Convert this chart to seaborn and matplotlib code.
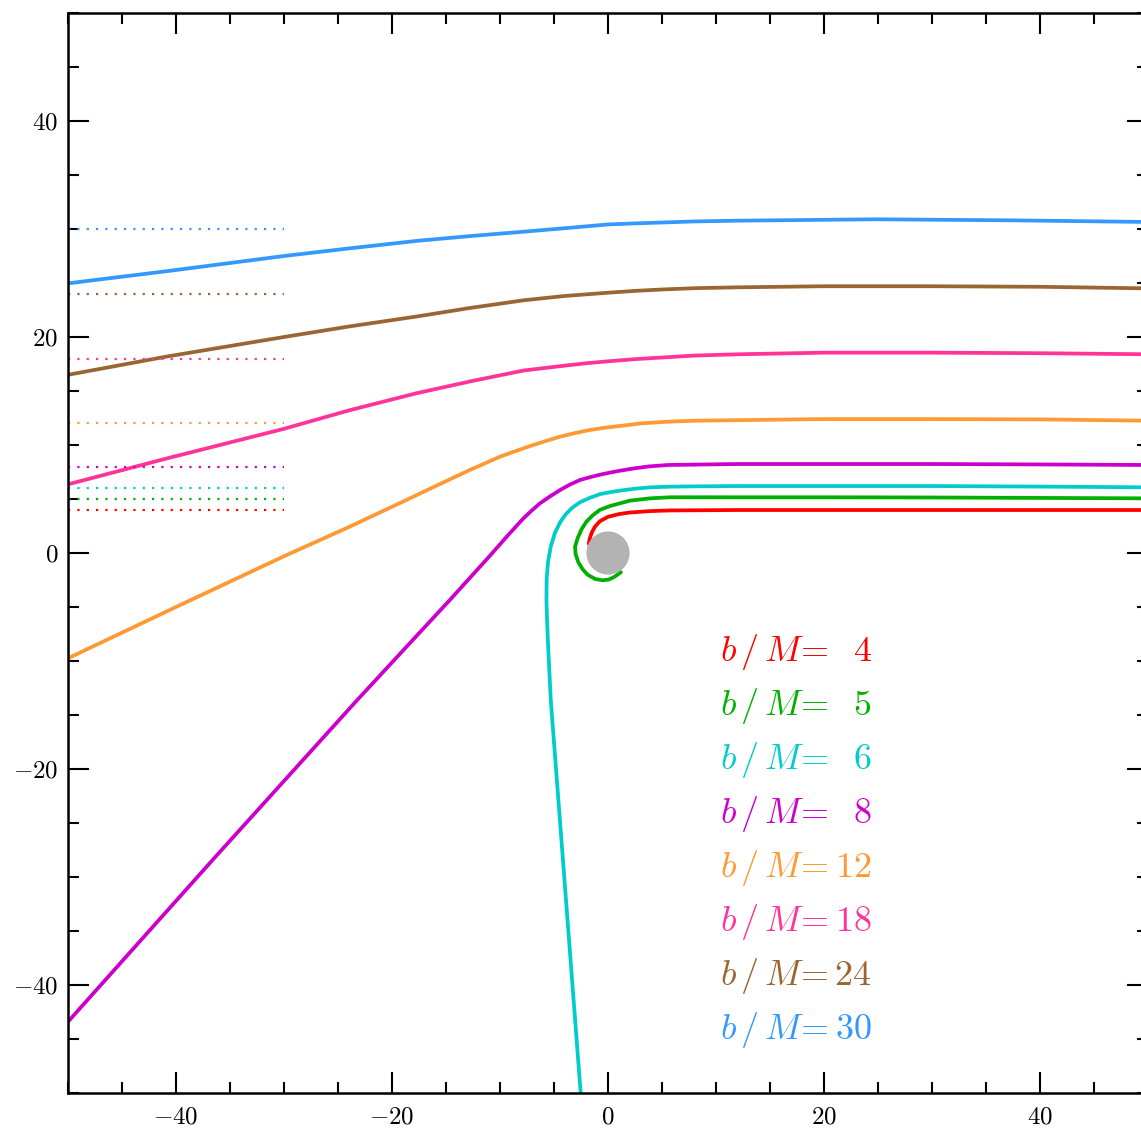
import matplotlib
matplotlib.use("Agg")
import matplotlib.pyplot as plt
import matplotlib.ticker as mticker
import pandas as pd
import seaborn as sns

# impact parameters and colours
b_values = [4, 5, 6, 8, 12, 18, 24, 30]
colors = ["#ff0000", "#00b000", "#00cccc", "#cc00cc",
          "#ff9933", "#ff3399", "#996633", "#3399ff"]

# photon paths (x, y in units of M)
x_b4 = [50, 30, 12, 5.74, 3.89, 2.04, 1.0, 0.0, -0.74, -1.2, -1.5, -1.7, -1.78]
y_b4 = [3.98, 3.98, 3.98, 3.94, 3.88, 3.75, 3.6, 3.35, 2.95, 2.45, 1.9, 1.3, 0.85]

x_b5 = [50, 40, 30, 20, 12, 8, 5.74, 3.89, 2.04, 1.11, 0.19, -0.74, -1.4, -2.0,
        -2.45, -2.8, -3.05, -3.0, -2.75, -2.35, -1.9, -1.2, -0.5, 0.1, 0.6, 1.2]
y_b5 = [5.06, 5.1, 5.14, 5.16, 5.16, 5.16, 5.16, 5.06, 4.85, 4.6, 4.35, 4.0, 3.5, 2.9,
        2.2, 1.4, 0.59, -0.1, -0.85, -1.5, -2.0, -2.4, -2.53, -2.45, -2.2, -1.78]

x_b6 = [50, 40, 30, 20, 12, 8, 5.74, 3.89, 2.45, 1.42, 0.3, -0.74, -1.7, -2.59,
        -3.3, -3.9, -4.4, -4.9, -5.3, -5.55, -5.68, -5.7, -5.65, -5.55, -5.45, -5.3, -2.53]
y_b6 = [6.08, 6.15, 6.2, 6.2, 6.2, 6.17, 6.14, 6.08, 5.95, 5.82, 5.65, 5.45, 5.1, 4.7,
        4.2, 3.6, 2.9, 1.9, 0.6, -0.8, -2.4, -4.35, -6.0, -8.5, -10.5, -13.6, -50]

x_b8 = [50, 40, 30, 20, 12, 5.6, 3.8, 2.45, 1.11, 0.2, -0.74, -1.67, -2.59, -3.5,
        -4.44, -5.4, -6.3, -7.1, -7.84, -9.38, -10.93, -12.47, -14.6, -23.3, -36.5, -50]
y_b8 = [8.15, 8.2, 8.24, 8.24, 8.24, 8.15, 8.02, 7.84, 7.62, 7.45, 7.25, 7.02, 6.76, 6.35,
        5.83, 5.22, 4.6, 3.9, 3.2, 1.51, -0.25, -1.95, -4.3, -13.7, -28.3, -43.4]

x_b12 = [50, 40, 30, 20, 12, 8, 5.6, 3.0, 1.11, -0.3, -1.67, -3.0, -4.44, -5.8, -7.22,
         -8.6, -10.0, -12.78, -15.56, -19, -24, -30, -40, -50]
y_b12 = [12.25, 12.37, 12.4, 12.4, 12.3, 12.25, 12.16, 12.0, 11.76, 11.6, 11.39, 11.12,
         10.77, 10.36, 9.9, 9.42, 8.92, 7.69, 6.39, 4.75, 2.4, -0.3, -5.0, -9.75]

x_b18 = [50, 40, 30, 20, 12, 8, 5, 2.5, 0, -2, -4, -7.8, -12.7, -17.7, -24, -30, -40.8, -50]
y_b18 = [18.4, 18.5, 18.55, 18.55, 18.4, 18.28, 18.1, 17.95, 17.75, 17.57, 17.35, 16.9,
         15.9, 14.8, 13.2, 11.5, 8.77, 6.36]

x_b24 = [50, 40, 30, 20, 12, 8, 5, 2.5, 0, -4, -7.8, -12.7, -17.7, -24, -30, -40.8, -50]
y_b24 = [24.5, 24.65, 24.7, 24.7, 24.6, 24.52, 24.4, 24.27, 24.1, 23.8, 23.4, 22.7, 21.9,
         20.97, 20.0, 18.2, 16.5]

x_b30 = [50, 37.6, 24.8, 12, 8, 5, 2.5, 0, -3.8, -7.8, -12.7, -17.7, -24, -30, -40.8, -50]
y_b30 = [30.65, 30.8, 30.9, 30.77, 30.7, 30.6, 30.52, 30.42, 30.09, 29.75, 29.35, 28.9,
         28.2, 27.5, 26.1, 24.97]

paths_x = [x_b4, x_b5, x_b6, x_b8, x_b12, x_b18, x_b24, x_b30]
paths_y = [y_b4, y_b5, y_b6, y_b8, y_b12, y_b18, y_b24, y_b30]

horizon_radius = 2.0
tick_major = [-40, -20, 0, 20, 40]


def build_frame():
    rows = []
    for b, xs, ys in zip(b_values, paths_x, paths_y):
        for i, (xv, yv) in enumerate(zip(xs, ys)):
            rows.append({"b": b, "step": i, "x": xv, "y": yv})
    return pd.DataFrame(rows)


def draw(df):
    sns.set_style("ticks")
    plt.rcParams["mathtext.fontset"] = "cm"
    plt.rcParams["font.family"] = ["DejaVu Serif"]

    fig = plt.figure(figsize=(11.41, 11.31), dpi=100)
    ax = fig.add_axes([68 / 1141, 38 / 1131, 1080 / 1141, 1080 / 1131])

    palette = dict(zip(b_values, colors))
    sns.lineplot(data=df, x="x", y="y", hue="b", units="b", palette=palette,
                 sort=False, estimator=None, legend=False, lw=2.7, ax=ax)

    # asymptotic impact parameter markers
    for b, c in zip(b_values, colors):
        ax.plot([-50, -30], [b, b], color=c, lw=1.6, linestyle=(0, (1, 3.2)))

    ax.add_patch(plt.Circle((0, 0), horizon_radius, color="#b3b3b3", zorder=5, lw=0))

    # labels
    for i, (b, c) in enumerate(zip(b_values, colors)):
        yb = -10 - 5 * i
        ax.text(10.4, yb, r"$b\,/\,M\!=$", color=c, fontsize=26, va="baseline", ha="left")
        ax.text(24.4, yb, r"$%d$" % b, color=c, fontsize=26, va="baseline", ha="right")

    ax.set_xlim(-50, 50)
    ax.set_ylim(-50, 50)
    ax.set_xlabel("")
    ax.set_ylabel("")
    ax.xaxis.set_major_locator(mticker.FixedLocator(tick_major))
    ax.yaxis.set_major_locator(mticker.FixedLocator(tick_major))
    ax.xaxis.set_minor_locator(mticker.MultipleLocator(5))
    ax.yaxis.set_minor_locator(mticker.MultipleLocator(5))
    fmt = mticker.FuncFormatter(lambda v, p: r"$%d$" % v)
    ax.xaxis.set_major_formatter(fmt)
    ax.yaxis.set_major_formatter(fmt)
    ax.tick_params(which="both", direction="in", top=True, right=True, width=1.5,
                   colors="black", labelsize=18)
    ax.tick_params(which="major", length=15)
    ax.tick_params(which="minor", length=8)
    ax.tick_params(axis="x", which="major", pad=9)
    ax.tick_params(axis="y", which="major", pad=7)
    for s in ax.spines.values():
        s.set_linewidth(1.8)
        s.set_color("black")

    fig.savefig("out.png", dpi=100)
    return fig


def main():
    df = build_frame()
    draw(df)


if __name__ == "__main__":
    main()
